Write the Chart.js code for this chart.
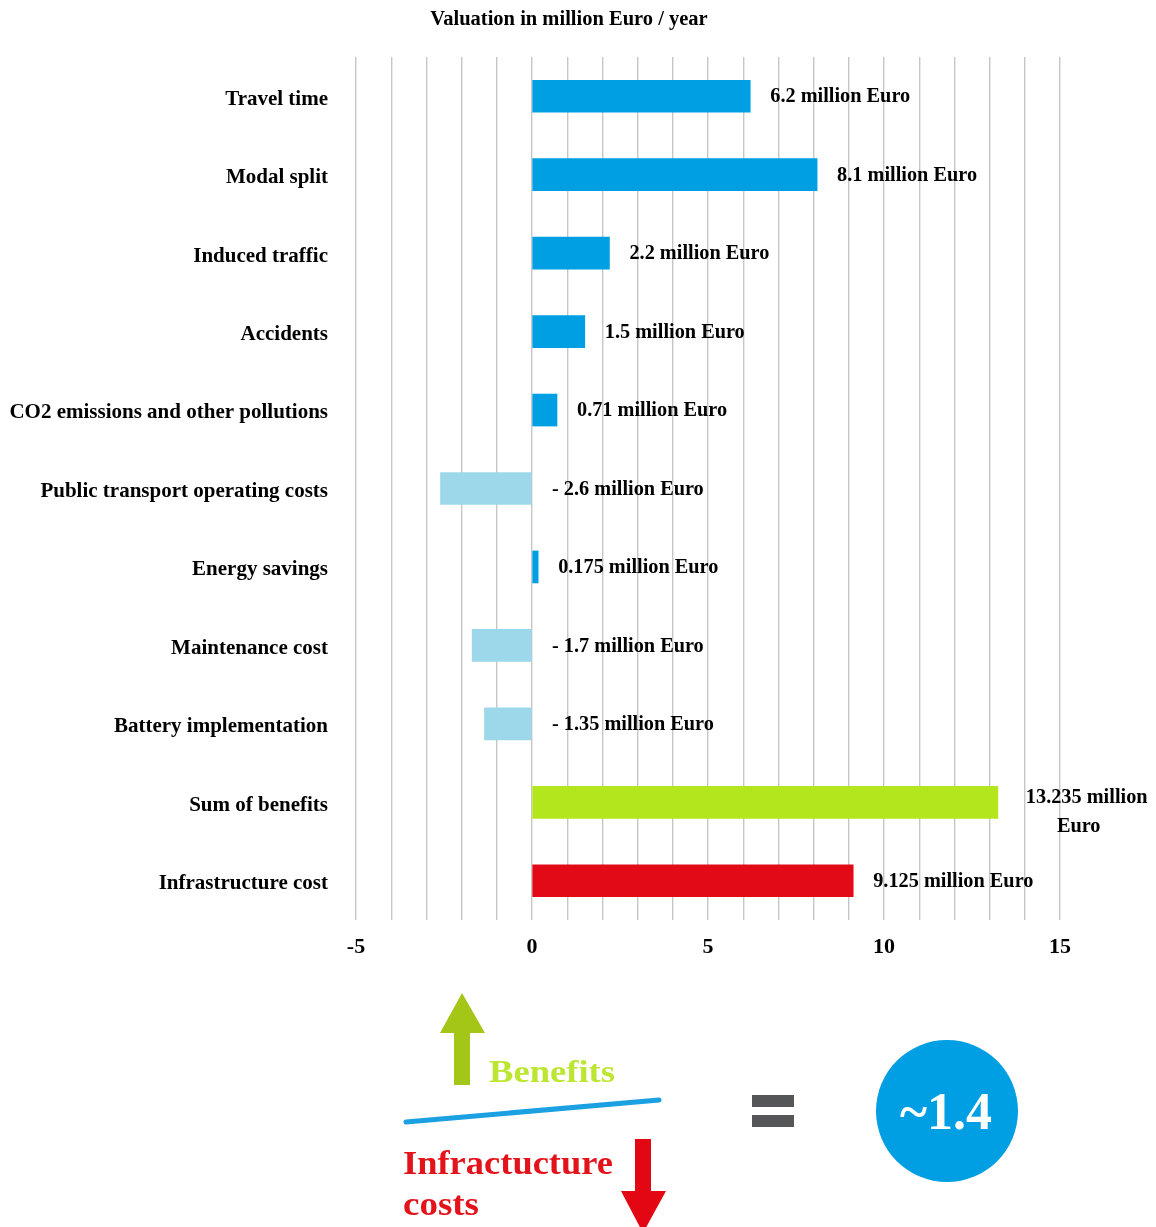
<!DOCTYPE html>
<html><head><meta charset="utf-8">
<script src="https://cdn.jsdelivr.net/npm/chart.js@4/dist/chart.umd.min.js"></script>
<style>
html,body{margin:0;padding:0;background:#fff;}
#wrap{position:relative;width:1156px;height:1227px;overflow:hidden;background:#fff;}
#c{position:absolute;left:0;top:0;}
#info{position:absolute;left:0;top:0;}
#info text{font-family:"Liberation Serif","Times New Roman",serif;font-weight:bold;}
</style></head><body>
<div id="wrap">
<canvas id="c" width="1156" height="980"></canvas>
<svg id="info" width="1156" height="1227" xmlns="http://www.w3.org/2000/svg">
  <polygon points="462,993 485,1033 470,1033 470,1085 454,1085 454,1033 440,1033" fill="#A3C617"/>
  <text x="489" y="1082" font-size="32" fill="#BDE632" textLength="126" lengthAdjust="spacingAndGlyphs">Benefits</text>
  <line x1="406" y1="1122" x2="659" y2="1100" stroke="#1BA0E2" stroke-width="5" stroke-linecap="round"/>
  <text x="403" y="1174" font-size="34" fill="#E3131B" textLength="210" lengthAdjust="spacingAndGlyphs">Infractucture</text>
  <text x="403" y="1215" font-size="34" fill="#E3131B" textLength="76" lengthAdjust="spacingAndGlyphs">costs</text>
  <polygon points="635,1139 651,1139 651,1191 666,1191 643,1233 621,1191 635,1191" fill="#E30613"/>
  <rect x="752" y="1095" width="42" height="12" fill="#555657"/>
  <rect x="752" y="1115" width="42" height="12" fill="#555657"/>
  <circle cx="947" cy="1111" r="71" fill="#009FE3"/>
  <text x="946" y="1129" font-size="52" fill="#ffffff" text-anchor="middle">~1.4</text>
</svg>
</div>
<script>
const categories = ["Travel time","Modal split","Induced traffic","Accidents","CO2 emissions and other pollutions","Public transport operating costs","Energy savings","Maintenance cost","Battery implementation","Sum of benefits","Infrastructure cost"];
const values = [6.2, 8.1, 2.2, 1.5, 0.71, -2.6, 0.175, -1.7, -1.35, 13.235, 9.125];
const groups = ["benefit","benefit","benefit","benefit","benefit","cost","benefit","cost","cost","sum","infra"];
const axisMin = -5, axisMax = 15, gridStep = 1, labelStep = 5;
const titleText = "Valuation in million Euro / year";
const unitText = " million Euro";

const groupColors = {benefit:"#009FE3", cost:"#9DD8EA", sum:"#B4E61E", infra:"#E30A17"};
const serif = '"Liberation Serif","Times New Roman",serif';

const labelPlugin = {
  id: "valueLabels",
  afterDatasetsDraw(chart) {
    const ctx = chart.ctx;
    const meta = chart.getDatasetMeta(0);
    const xs = chart.scales.x;
    ctx.save();
    ctx.font = "bold 20.3px " + serif;
    ctx.fillStyle = "#000";
    ctx.textBaseline = "middle";
    ctx.textAlign = "left";
    meta.data.forEach((bar, i) => {
      const v = values[i];
      const base = xs.getPixelForValue(Math.max(v, 0));
      const txt = (v < 0 ? "- " + Math.abs(v) : String(v)) + unitText;
      const w = ctx.measureText(txt).width;
      const x = base + 20;
      if (x + w > chart.width - 4) {
        const parts = txt.split(" ");
        const l1 = parts.slice(0, parts.length - 1).join(" ");
        const l2 = parts[parts.length - 1];
        const w1 = ctx.measureText(l1).width;
        const cx = base + 28 + w1 / 2;
        ctx.textAlign = "center";
        ctx.fillText(l1, cx, bar.y - 5);
        ctx.fillText(l2, cx - 8, bar.y + 24);
        ctx.textAlign = "left";
      } else {
        ctx.fillText(txt, x, bar.y + 1);
      }
    });
    ctx.font = "bold 20.5px " + serif;
    ctx.textAlign = "center";
    ctx.fillText(titleText, 569, 20);
    ctx.restore();
  }
};

new Chart(document.getElementById("c"), {
  type: "bar",
  data: {
    labels: categories,
    datasets: [{
      data: values,
      backgroundColor: groups.map(g => groupColors[g]),
      borderWidth: 0,
      barThickness: 32
    }]
  },
  options: {
    indexAxis: "y",
    responsive: false,
    animation: false,
    devicePixelRatio: 1,
    layout: { padding: { top: 57, right: 96, bottom: 0, left: 0 } },
    plugins: { legend: { display: false }, title: { display: false }, tooltip: { enabled: false } },
    scales: {
      x: {
        min: axisMin, max: axisMax,
        ticks: {
          stepSize: gridStep, autoSkip: false, maxRotation: 0,
          callback: v => (v % labelStep === 0 ? String(v) : ""),
          font: { family: serif, weight: "bold", size: 22 },
          color: "#000", padding: 14
        },
        grid: { color: "#c6c6c6", lineWidth: 1.4, drawTicks: false },
        border: { display: false },
        afterFit: s => { s.height = 60; }
      },
      y: {
        ticks: { font: { family: serif, weight: "bold", size: 21 }, color: "#000", padding: 20, autoSkip: false, labelOffset: 3 },
        grid: { display: false },
        border: { display: false },
        afterFit: s => { s.width = 356; }
      }
    }
  },
  plugins: [labelPlugin]
});
</script>
</body></html>
